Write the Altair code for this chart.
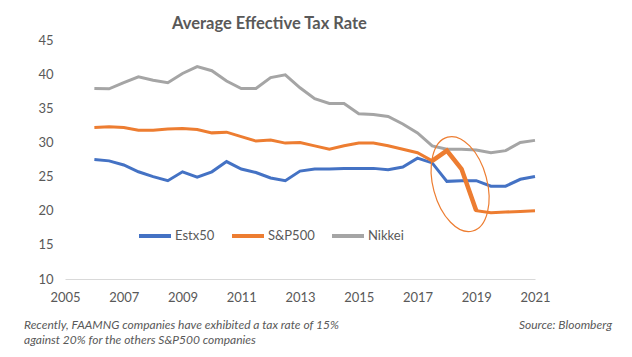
import altair as alt
import pandas as pd

years = [2006, 2006.5, 2007, 2007.5, 2008, 2008.5, 2009, 2009.5, 2010, 2010.5,
         2011, 2011.5, 2012, 2012.5, 2013, 2013.5, 2014, 2014.5, 2015, 2015.5,
         2016, 2016.5, 2017, 2017.5, 2018, 2018.5, 2019, 2019.5, 2020, 2020.5, 2021]

estx50 = [27.5, 27.3, 26.7, 25.7, 25.0, 24.4, 25.7, 24.9, 25.7, 27.2,
          26.1, 25.6, 24.8, 24.4, 25.8, 26.1, 26.1, 26.2, 26.2, 26.2,
          26.0, 26.4, 27.7, 27.0, 24.3, 24.4, 24.4, 23.6, 23.6, 24.6, 25.0]

sp500 = [32.2, 32.3, 32.2, 31.8, 31.8, 31.95, 32.05, 31.9, 31.4, 31.5,
         30.85, 30.2, 30.35, 29.9, 30.0, 29.5, 29.0, 29.5, 29.9, 29.9,
         29.5, 29.0, 28.5, 27.3, 28.8, 26.1, 20.0, 19.7, 19.8, 19.9, 20.0]

nikkei = [37.9, 37.85, 38.75, 39.6, 39.1, 38.75, 40.1, 41.1, 40.5, 39.0,
          37.9, 37.9, 39.5, 39.9, 38.0, 36.4, 35.7, 35.7, 34.2, 34.1,
          33.8, 32.7, 31.4, 29.5, 29.0, 29.0, 28.9, 28.5, 28.8, 30.0, 30.3]

series_names = ["Estx50", "S&P500", "Nikkei"]
series_colors = ["#4472C4", "#ED7D31", "#A5A5A5"]

x_ticks = [2005, 2007, 2009, 2011, 2013, 2015, 2017, 2019, 2021]
y_ticks = [10, 15, 20, 25, 30, 35, 40, 45]

# highlighted S&P500 drop
highlight_years = [2017.5, 2018, 2018.5, 2019]

# annotation ellipse centre (data units)
ellipse_x = [2018.45]
ellipse_y = [23.9]

footnote = ["Recently, FAAMNG companies have exhibited a tax rate of 15%",
            "against 20% for the others S&P500 companies"]
source = "Source: Bloomberg"

rows = []
for name, vals in zip(series_names, [estx50, sp500, nikkei]):
    for i, (yr, v) in enumerate(zip(years, vals)):
        rows.append({"year": yr, "value": v, "series": name, "order": i})
df = pd.DataFrame(rows)
hl = df[(df.series == "S&P500") & (df.year.isin(highlight_years))]
ell_df = pd.DataFrame({"year": ellipse_x, "value": ellipse_y})

FONT = "Lato"
GREY = "#595959"

x = alt.X("year:Q", scale=alt.Scale(domain=[2005, 2021], nice=False, zero=False),
          axis=alt.Axis(values=x_ticks, format="d", title=None,
                        grid=False, ticks=False, domainColor="#D9D9D9", domainWidth=1,
                        labelColor=GREY, labelFontSize=13, labelFont=FONT,
                        labelPadding=12, labelFlush=False, labelOverlap=False))
y = alt.Y("value:Q", scale=alt.Scale(domain=[10, 45], nice=False, zero=False),
          axis=alt.Axis(values=y_ticks, title=None, grid=False,
                        ticks=False, domain=False, labelColor=GREY, labelFontSize=13,
                        labelFont=FONT, labelPadding=12, labelOverlap=False,
                        labelFlush=False))

lines = alt.Chart(df).mark_line(strokeWidth=3).encode(
    x=x, y=y,
    color=alt.Color("series:N",
                    scale=alt.Scale(domain=series_names, range=series_colors),
                    sort=series_names,
                    legend=alt.Legend(orient="none", legendX=72, legendY=178,
                                      direction="horizontal", title=None,
                                      symbolType="stroke", symbolSize=1024,
                                      symbolStrokeWidth=4, labelFont=FONT,
                                      labelFontSize=13, labelColor=GREY,
                                      labelOffset=2, columnPadding=9, padding=0)),
    order="order:Q",
)

hl_line = alt.Chart(hl).mark_line(strokeWidth=4.5, color="#ED7D31").encode(
    x=x, y=y, order="order:Q")

ell = alt.Chart(ell_df).mark_point(
    shape="M0,-1 A0.556,1 0 1,1 0,1 A0.556,1 0 1,1 0,-1 Z",
    filled=False, stroke="#ED7D31", strokeWidth=1.2, opacity=1,
    size=9448, angle=345,
).encode(x=x, y=y)

foot = alt.Chart(pd.DataFrame({"t": [footnote]})).mark_text(
    align="left", baseline="alphabetic", font=FONT, fontStyle="italic",
    fontSize=12, color=GREY, lineHeight=15,
).encode(text="t", x=alt.value(-41), y=alt.value(289))

src = alt.Chart(pd.DataFrame({"t": [source]})).mark_text(
    align="right", baseline="alphabetic", font=FONT, fontStyle="italic",
    fontSize=12, color=GREY,
).encode(text="t", x=alt.value(547), y=alt.value(289))

chart = alt.layer(lines, hl_line, ell, foot, src).properties(
    width=470, height=239,
    title=alt.TitleParams("Average Effective Tax Rate", anchor="start", dx=107,
                          frame="group", fontSize=16.5, font=FONT,
                          fontWeight="bold", color=GREY, offset=2),
    autosize=alt.AutoSizeParams(type="none"),
    padding={"left": 65, "top": 40, "right": 97, "bottom": 78},
    background="white",
).configure_view(strokeWidth=0, stroke="transparent")

chart.save("out.html", embed_options={"renderer": "svg", "actions": False})
